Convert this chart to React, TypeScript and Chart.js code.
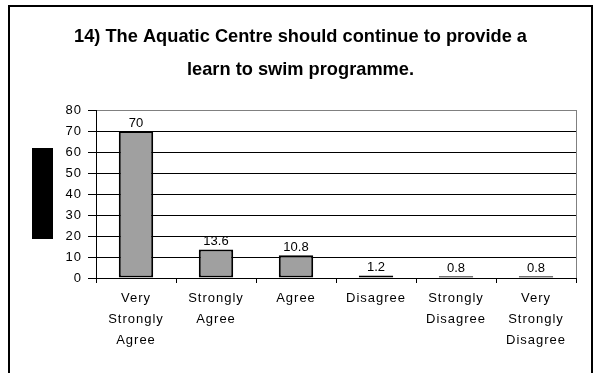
import React, { useEffect, useRef } from "react";
import { Chart, registerables } from "chart.js";

Chart.register(...registerables);

const categories: string[][] = [
  ["Very", "Strongly", "Agree"],
  ["Strongly", "Agree"],
  ["Agree"],
  ["Disagree"],
  ["Strongly", "Disagree"],
  ["Very", "Strongly", "Disagree"],
];
const values: number[] = [70, 13.6, 10.8, 1.2, 0.8, 0.8];
const titleLines: string[] = [
  "14) The Aquatic Centre should continue to provide a",
  "learn to swim programme.",
];
const yMin = 0;
const yMax = 80;
const yStep = 10;

const FONT = "'Liberation Sans', Arial, sans-serif";

const decorPlugin = {
  id: "decor",
  beforeDraw(chart: any) {
    const ctx = chart.ctx;
    ctx.save();
    ctx.fillStyle = "#fff";
    ctx.fillRect(0, 0, chart.width, chart.height);
    // outer frame
    ctx.strokeStyle = "#000";
    ctx.lineWidth = 2;
    ctx.strokeRect(9, 6, 583, 420);
    // title (slightly condensed)
    ctx.fillStyle = "#000";
    ctx.font = "bold 19px 'Liberation Sans', Arial, sans-serif";
    ctx.textAlign = "center";
    ctx.textBaseline = "alphabetic";
    ctx.translate(300.5, 0);
    ctx.scale(0.96, 1);
    ctx.fillText(titleLines[0], 0, 42);
    ctx.fillText(titleLines[1], 0, 75);
    ctx.restore();
    // axis labels are drawn slightly letter-spaced
    ctx.letterSpacing = "1px";
  },
  beforeDatasetsDraw(chart: any) {
    const { ctx, chartArea } = chart;
    ctx.save();
    ctx.strokeStyle = "#808080";
    ctx.lineWidth = 1;
    ctx.beginPath();
    ctx.moveTo(chartArea.right + 0.5, chartArea.top);
    ctx.lineTo(chartArea.right + 0.5, chartArea.bottom);
    ctx.stroke();
    const cy = (chartArea.top + chartArea.bottom) / 2;
    ctx.fillStyle = "#000";
    ctx.fillRect(chartArea.left - 64, cy - 46, 21, 91);
    ctx.restore();
  },
  afterDatasetsDraw(chart: any) {
    const { ctx } = chart;
    const meta = chart.getDatasetMeta(0);
    ctx.save();
    ctx.letterSpacing = "0px";
    ctx.fillStyle = "#000";
    ctx.font = `13px ${FONT}`;
    ctx.textAlign = "center";
    ctx.textBaseline = "middle";
    meta.data.forEach((bar: any, i: number) => {
      ctx.fillText(String(values[i]), bar.x, bar.y - 8);
    });
    ctx.restore();
  },
};

export default function App() {
  const ref = useRef<HTMLCanvasElement | null>(null);

  useEffect(() => {
    if (!ref.current) return;
    const chart = new Chart(ref.current, {
      type: "bar",
      data: {
        labels: categories,
        datasets: [
          {
            data: values,
            backgroundColor: "#a0a0a0",
            borderColor: "#000",
            borderWidth: 2,
            borderSkipped: false,
            categoryPercentage: 1,
            barPercentage: 0.43,
          },
        ],
      },
      options: {
        animation: false,
        responsive: false,
        maintainAspectRatio: false,
        layout: { padding: { top: 110, left: 0, right: 22, bottom: 15 } },
        plugins: {
          legend: { display: false },
          title: { display: false },
          tooltip: { enabled: false },
        },
        scales: {
          x: {
            afterFit: (s: any) => {
              s.height = 80;
            },
            grid: {
              offset: true,
              drawOnChartArea: false,
              drawTicks: true,
              tickLength: 5,
              tickColor: "#000",
            },
            border: { color: "#000", width: 1 },
            ticks: {
              color: "#000",
              font: { family: FONT, size: 13, lineHeight: 1.6 },
              padding: 5,
              maxRotation: 0,
              autoSkip: false,
            },
          },
          y: {
            min: yMin,
            max: yMax,
            afterFit: (s: any) => {
              s.width = 96;
            },
            grid: {
              color: (c: any) => (c.tick && c.tick.value === yMax ? "#808080" : "#000"),
              tickColor: "#000",
              tickLength: 8,
              drawTicks: true,
            },
            border: { color: "#000", width: 1 },
            ticks: {
              stepSize: yStep,
              color: "#000",
              font: { family: FONT, size: 13 },
              padding: 6,
            },
          },
        },
      },
      plugins: [decorPlugin],
    });
    return () => chart.destroy();
  }, []);

  return (
    <canvas
      ref={ref}
      width={598}
      height={373}
      style={{ position: "fixed", left: 0, top: 0, width: 598, height: 373 }}
    />
  );
}
